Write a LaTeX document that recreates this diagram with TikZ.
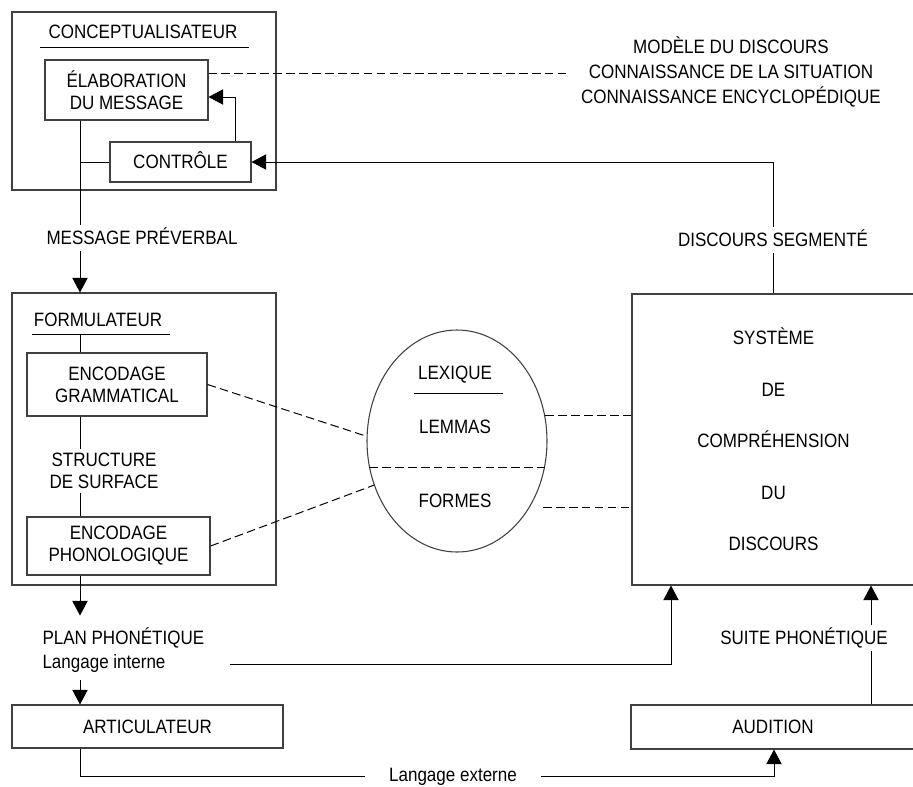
\documentclass[tikz,border=0pt]{standalone}
\usepackage{fontspec}
\setmainfont[FakeStretch=0.88]{Liberation Sans}
\usetikzlibrary{arrows.meta,shapes.geometric,calc}

\tikzset{
  box/.style={draw=black!75, line width=0.8pt, inner sep=0pt},
  lbl/.style={text height=10.4pt, text depth=0pt},
  gap/.style={fill=white, inner xsep=2pt, inner ysep=4.5pt},
  arr/.style={-{Triangle[length=11pt,width=11.5pt]}},
  dsh/.style={dash pattern=on 6.5pt off 3.2pt},
}

\begin{document}
\begin{tikzpicture}[x=0.75pt, y=-0.75pt, line width=0.75pt, font=\fontsize{14.5pt}{16.5pt}\selectfont]
        \useasboundingbox (0,0) rectangle (913,786);
        % x positions of the vertical lines
        \coordinate (cx) at (80,0);
        \coordinate (fbx) at (235,0);
        \coordinate (ix) at (671,0);
        \coordinate (ax) at (871,0);
        \coordinate (ex) at (774,0);
        \coordinate (bot) at (0,776);

        % Draw the conceptualisateur
        \node[box, minimum width=198pt, minimum height=133.5pt] (concept) at (144,101) {};
        \node[lbl] (conceptT) at (143,32) {CONCEPTUALISATEUR};
        \draw (40,47) -- (249,47);
        \node[box, minimum width=122.25pt, minimum height=45pt, align=center] (elab) at (126.5,90) {ÉLABORATION\\DU MESSAGE};
        \node[box, lbl, minimum width=105.75pt, minimum height=30pt] (ctrl) at (180.5,162) {CONTRÔLE};
        \coordinate (elabD) at ($(elab.east)+(0,-17)$);
        \coordinate (elabA) at ($(elab.east)+(0,7)$);
        \draw[arr] (ctrl.north -| fbx) |- (elabA);
        \draw (ctrl.west) -- (ctrl.west -| cx);

        % Draw the knowledge
        \node[align=center, font=\fontsize{14.5pt}{19pt}\selectfont, inner xsep=11pt] (know) at (731,72) {MODÈLE DU DISCOURS\\CONNAISSANCE DE LA SITUATION\\CONNAISSANCE ENCYCLOPÉDIQUE};
        \draw[dsh] (elabD) -- (elabD -| know.west);

        % Draw the formulateur
        \node[box, minimum width=198pt, minimum height=219pt] (formul) at (144,439) {};
        \node[lbl] (formulT) at (98,320) {FORMULATEUR};
        \draw (32,334) -- (170,334);
        \node[box, minimum width=135pt, minimum height=47.25pt, align=center] (gram) at (117,384.5) {ENCODAGE\\GRAMMATICAL};
        \node[box, minimum width=137.25pt, minimum height=43.5pt, align=center] (phon) at (118.5,546) {ENCODAGE\\PHONOLOGIQUE};
        \draw (80,334) -- (gram.north -| cx);
        \draw (gram.south -| cx) -- (phon.north -| cx);
        \node[gap, inner ysep=3pt, align=center] (struct) at (104,471) {STRUCTURE\\DE SURFACE};

        % Draw the trunk from the message to the formulateur
        \draw[arr] (elab.south -| cx) -- (formul.north -| cx);
        \node[gap, lbl] (msg) at (142,238) {MESSAGE PRÉVERBAL};

        % Draw the lexique
        \node[box, ellipse, minimum width=135pt, minimum height=166.5pt] (lex) at (457,441) {};
        \node[lbl] (lexT) at (455,373) {LEXIQUE};
        \draw (414,393) -- (503,393);
        \node[lbl] (lemmas) at (455,427) {LEMMAS};
        \node[lbl] (formes) at (455,501) {FORMES};
        \draw[dsh] (lex.197.8) -- (lex.-17.8);
        \draw[dsh] (gram.east) -- (lex.177);
        \draw[dsh] (phon.east) -- (lex.208);

        % Draw the comprehension system
        \node[box, minimum width=212.25pt, minimum height=218.25pt, align=center, font=\fontsize{14.5pt}{38.6pt}\selectfont] (sys) at (773.5,439.5) {SYSTÈME\\DE\\COMPRÉHENSION\\DU\\DISCOURS};
        \coordinate (formR) at (543,507);
        \draw[dsh] (lex.16.6) -- (lex.16.6 -| sys.west);
        \draw[dsh] (formR) -- (formR -| sys.west);
        \draw[arr] (sys.north) |- (ctrl.east);
        \node[gap, lbl] (seg) at (773,240) {DISCOURS SEGMENTÉ};

        % Draw the phonetic plan and the articulateur
        \draw[arr] (phon.south -| cx) -- ++(0,40);
        \node[align=left, anchor=west, inner sep=0pt, font=\fontsize{14.5pt}{18pt}\selectfont] (plan) at (42,650) {PLAN PHONÉTIQUE\\Langage interne};
        \coordinate (innerL) at (230,664);
        \draw[arr] (innerL) -| (ix |- sys.south);
        \node[box, lbl, minimum width=203.25pt, minimum height=32.25pt] (artic) at (147.5,726.5) {ARTICULATEUR};
        \draw[arr] (cx |- 0,680) -- (artic.north -| cx);

        % Draw the audition
        \node[box, lbl, minimum width=213pt, minimum height=33pt] (aud) at (773,727) {AUDITION};
        \draw[arr] (aud.north -| ax) -- (sys.south -| ax);
        \node[gap, lbl] (suite) at (804,638) {SUITE PHONÉTIQUE};
        \draw[arr] (artic.south -| cx) -- (bot -| cx) -- (bot -| ex) -- (aud.south -| ex);
        \node[gap, lbl, inner xsep=18pt] (ext) at (453,775) {Langage externe};
    \end{tikzpicture}
\end{document}
